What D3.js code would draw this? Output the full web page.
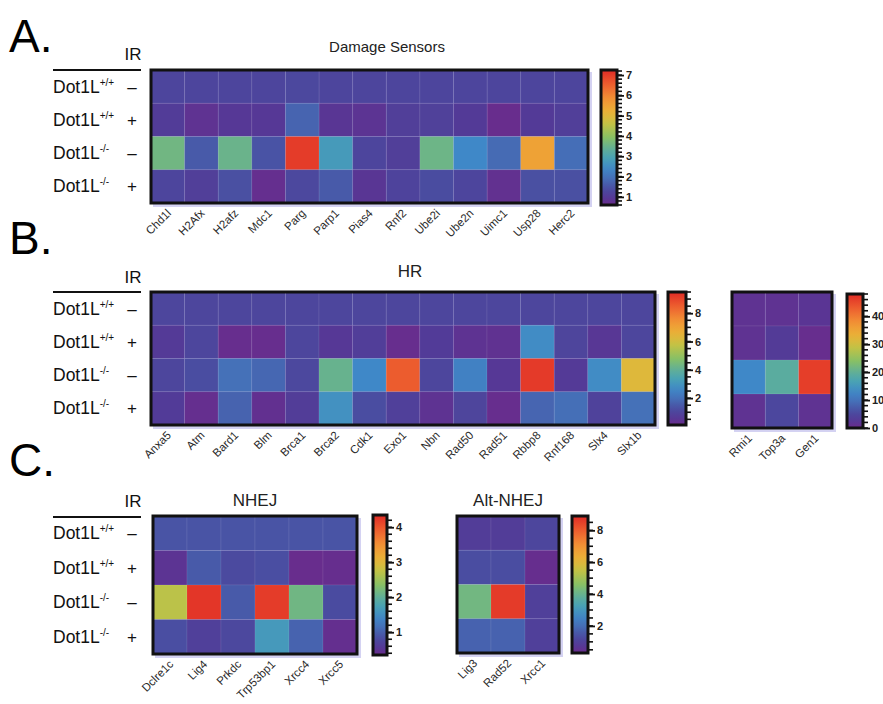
<!DOCTYPE html>
<html><head><meta charset="utf-8">
<script src="https://cdn.jsdelivr.net/npm/d3@7"></script>
<style>body{margin:0;background:#fff} svg{font-family:"Liberation Sans",Arial,Helvetica,sans-serif}</style>
</head><body><svg id="c" width="883" height="704"></svg>
<script>
// ---------- DATA ----------
const rowGenotypes = ["+/+", "+/+", "-/-", "-/-"];
const rowIR = ["\u2013", "+", "\u2013", "+"];

const dsGenes = ["Chd1l","H2Afx","H2afz","Mdc1","Parg","Parp1","Pias4","Rnf2","Ube2i","Ube2n","Uimc1","Usp28","Herc2"];
const dsValues = [
  [1.25,1.25,1.25,1.25,1.3,1.25,1.25,1.25,1.25,1.25,1.25,1.25,1.25],
  [1.05,0.8,0.95,0.95,1.75,0.9,0.85,1.1,1.15,1.0,0.65,1.0,1.1],
  [3.6,1.6,3.5,1.5,7.0,2.75,1.25,1.1,3.55,2.4,1.85,5.5,1.9],
  [1.25,1.1,1.45,0.7,1.3,1.6,0.9,1.2,1.4,1.25,0.75,1.45,1.45]
];
const dsDomain = [0.6, 7.25];
const dsTicks = [1,2,3,4,5,6,7];

const hrGenes = ["Anxa5","Atm","Bard1","Blm","Brca1","Brca2","Cdk1","Exo1","Nbn","Rad50","Rad51","Rbbp8","Rnf168","Slx4","Slx1b"];
const hrValues = [
  [1.05,1.05,1.05,1.05,1.05,1.05,1.05,1.05,1.05,1.05,1.05,1.05,1.05,1.05,1.05],
  [0.65,1.05,0.2,0.2,1.05,0.6,0.8,0.2,0.7,0.4,0.35,2.75,1.0,0.55,1.05],
  [1.05,1.25,2.0,1.8,1.1,4.15,2.65,8.55,1.05,2.45,0.6,9.2,0.65,2.75,6.3],
  [0.7,0.25,1.7,0.3,0.75,2.9,1.25,0.85,0.4,1.0,0.2,1.75,1.95,0.9,2.0]
];
const hrDomain = [0.1, 9.5];
const hrTicks = [2,4,6,8];

const hr2Genes = ["Rmi1","Top3a","Gen1"];
const hr2Values = [
  [1.5,1.5,2.0],
  [1.5,3.0,0.5],
  [13,19,46],
  [1.5,5.0,1.5]
];
const hr2Domain = [0, 48];
const hr2Ticks = [0,10,20,30,40];

const nhejGenes = ["Dclre1c","Lig4","Prkdc","Trp53bp1","Xrcc4","Xrcc5"];
const nhejValues = [
  [0.9,0.9,0.9,0.9,0.9,0.9],
  [0.5,0.95,0.8,0.85,0.38,0.4],
  [2.7,4.25,0.95,4.2,2.15,0.82],
  [0.85,0.67,0.78,1.63,1.03,0.42]
];
const nhejDomain = [0.35, 4.35];
const nhejTicks = [1,2,3,4];

const altGenes = ["Lig3","Rad52","Xrcc1"];
const altValues = [
  [0.9,0.9,1.15],
  [1.35,1.35,0.4],
  [4.2,8.6,1.0],
  [1.75,1.75,1.0]
];
const altDomain = [0.3, 8.9];
const altTicks = [2,4,6,8];

// ---------- COLOR ----------
const stopPos = [0,0.06,0.12,0.20,0.27,0.35,0.42,0.50,0.60,0.68,0.78,0.88,1.0];
const stopCol = ["#6b2b8c","#533a97","#4a4ca0","#4570b8","#3f88c8","#4aa3b3","#62b095","#88c065","#c2c245","#e8b438","#f29535","#ee6530","#e02a26"];
const ramp = d3.scaleLinear().domain(stopPos).range(stopCol).interpolate(d3.interpolateRgb).clamp(true);

const svg = d3.select("#c");
const defs = svg.append("defs");
let gid = 0;

function heatmap(o) {
  const g = svg.append("g");
  const xs = d3.scaleBand().domain(o.genes).range([o.x, o.x + o.w]);
  const ys = d3.scaleBand().domain(d3.range(4)).range([o.y, o.y + o.h]);
  const norm = d3.scaleLinear().domain(o.domain).range([0, 1]);
  const color = v => ramp(norm(v));
  const cells = [];
  o.values.forEach((row, r) => row.forEach((v, c) => cells.push({r, c, v})));
  g.append("rect").attr("x", o.x + 2).attr("y", o.y + 2).attr("width", o.w + 2).attr("height", o.h + 2)
    .attr("fill", "#a9a6e6").attr("opacity", 0.5);
  g.selectAll("rect.cell").data(cells).join("rect").attr("class", "cell")
    .attr("x", d => xs(o.genes[d.c])).attr("y", d => ys(d.r))
    .attr("width", xs.bandwidth()).attr("height", ys.bandwidth())
    .attr("fill", d => color(d.v))
    .attr("stroke", "rgba(255,255,255,0.07)").attr("stroke-width", 1);
  g.append("rect").attr("x", o.x).attr("y", o.y).attr("width", o.w).attr("height", o.h)
    .attr("fill", "none").attr("stroke", "#111").attr("stroke-width", 3);
  g.selectAll("text.gene").data(o.genes).join("text").attr("class", "gene")
    .attr("transform", d => `translate(${xs(d) + xs.bandwidth() / 2 + 4},${o.y + o.h + 11}) rotate(-45)`)
    .attr("text-anchor", "end").attr("font-size", 11.5).attr("fill", "#2a2a2a").text(d => d);
  if (o.title) {
    g.append("text").attr("x", o.titleX).attr("y", o.titleY).attr("text-anchor", "middle")
      .attr("font-size", o.titleSize).attr("fill", "#222").text(o.title);
  }
  const id = "grad" + (gid++);
  const grad = defs.append("linearGradient").attr("id", id).attr("x1", 0).attr("y1", 1).attr("x2", 0).attr("y2", 0);
  d3.range(0, 1.0001, 0.05).forEach(t => grad.append("stop").attr("offset", t).attr("stop-color", ramp(t)));
  const L = o.legend;
  g.append("rect").attr("x", L.x).attr("y", L.y).attr("width", L.w).attr("height", L.h)
    .attr("fill", `url(#${id})`).attr("stroke", "#111").attr("stroke-width", 3);
  const ls = d3.scaleLinear().domain(o.domain).range([L.y + L.h, L.y]);
  const minor = d3.range(Math.ceil(o.domain[0] / L.minor) * L.minor, o.domain[1] + 1e-9, L.minor);
  g.selectAll("line.minor").data(minor).join("line").attr("class", "minor")
    .attr("x1", L.x + L.w + 1).attr("x2", L.x + L.w + 5)
    .attr("y1", d => ls(d)).attr("y2", d => ls(d)).attr("stroke", "#111").attr("stroke-width", 1.6);
  const ax = g.append("g").attr("transform", `translate(${L.x + L.w + 1},0)`)
    .call(d3.axisRight(ls).tickValues(o.ticks).tickSize(6).tickSizeOuter(0).tickPadding(2).tickFormat(d3.format("d")));
  ax.select(".domain").remove();
  ax.selectAll(".tick line").attr("stroke", "#111").attr("stroke-width", 1.8);
  ax.selectAll(".tick text").attr("font-size", 11).attr("font-weight", "bold").attr("fill", "#222")
    .attr("font-family", "\"Liberation Sans\",Arial,sans-serif");
}

function rowLabels(top, rowH, irY, lineY) {
  const g = svg.append("g");
  g.append("text").attr("x", 133).attr("y", irY).attr("text-anchor", "middle").attr("font-size", 17).attr("fill", "#111").text("IR");
  g.append("line").attr("x1", 53).attr("x2", 141).attr("y1", lineY).attr("y2", lineY).attr("stroke", "#111").attr("stroke-width", 2.2);
  rowGenotypes.forEach((gt, i) => {
    const cy = top + rowH * (i + 0.5) + 6;
    const t = g.append("text").attr("x", 53).attr("y", cy).attr("font-size", 17.5).attr("fill", "#111");
    t.append("tspan").text("Dot1L");
    t.append("tspan").attr("font-size", 10).attr("dy", -7).text(gt === "+/+" ? "+/+" : "-/-");
    g.append("text").attr("x", 132).attr("y", cy).attr("text-anchor", "middle").attr("font-size", 17).attr("fill", "#111").text(rowIR[i]);
  });
}

function panelLabel(txt, y) {
  svg.append("text").attr("x", 9).attr("y", y).attr("font-size", 46).attr("fill", "#000").text(txt);
}

panelLabel("A.", 52);
rowLabels(70, 133 / 4, 60, 70);
heatmap({x: 151, y: 70, w: 437, h: 133, genes: dsGenes, values: dsValues, domain: dsDomain, ticks: dsTicks,
  title: "Damage Sensors", titleX: 387, titleY: 52, titleSize: 15,
  legend: {x: 601, y: 70, w: 16, h: 135, minor: 0.2}});

panelLabel("B.", 254);
rowLabels(292, 133 / 4, 283, 292);
heatmap({x: 151, y: 292, w: 504, h: 133, genes: hrGenes, values: hrValues, domain: hrDomain, ticks: hrTicks,
  title: "HR", titleX: 410, titleY: 277, titleSize: 17,
  legend: {x: 668, y: 292, w: 18, h: 133, minor: 0.5}});
heatmap({x: 732, y: 292, w: 100, h: 136, genes: hr2Genes, values: hr2Values, domain: hr2Domain, ticks: hr2Ticks,
  legend: {x: 847, y: 294, w: 16, h: 134, minor: 2}});

panelLabel("C.", 476);
rowLabels(516, 138 / 4, 507, 517);
heatmap({x: 153, y: 516, w: 204, h: 138, genes: nhejGenes, values: nhejValues, domain: nhejDomain, ticks: nhejTicks,
  title: "NHEJ", titleX: 255, titleY: 506, titleSize: 17,
  legend: {x: 373, y: 515, w: 14, h: 140, minor: 0.2}});
heatmap({x: 457, y: 516, w: 102, h: 137, genes: altGenes, values: altValues, domain: altDomain, ticks: altTicks,
  title: "Alt-NHEJ", titleX: 508, titleY: 506, titleSize: 17,
  legend: {x: 572, y: 516, w: 16, h: 137, minor: 0.5}});
</script></body></html>
